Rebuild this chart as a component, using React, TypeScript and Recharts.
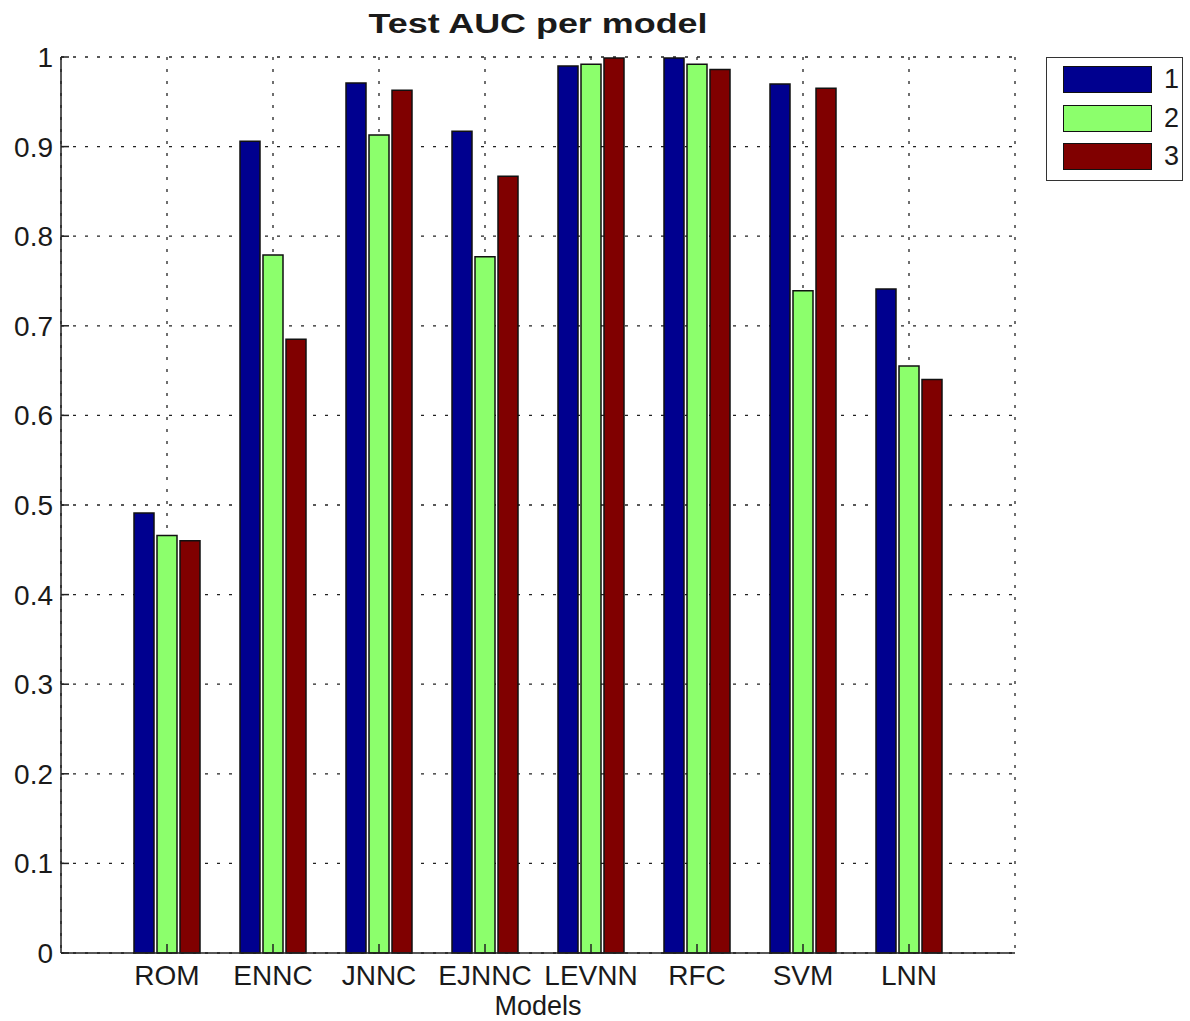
import React from 'react';
import { BarChart, Bar, XAxis, YAxis, CartesianGrid } from 'recharts';

const models = ['ROM', 'ENNC', 'JNNC', 'EJNNC', 'LEVNN', 'RFC', 'SVM', 'LNN'];
const series1 = [0.491, 0.906, 0.971, 0.917, 0.99, 0.999, 0.97, 0.741];
const series2 = [0.466, 0.779, 0.913, 0.777, 0.992, 0.992, 0.739, 0.655];
const series3 = [0.46, 0.685, 0.963, 0.867, 0.999, 0.986, 0.965, 0.64];
const yTicks = [0, 0.1, 0.2, 0.3, 0.4, 0.5, 0.6, 0.7, 0.8, 0.9, 1];
const seriesKeys = ['s1', 's2', 's3'];
const seriesNames = ['1', '2', '3'];
const seriesColors = ['#00008F', '#8CFF6C', '#800000'];
const title = 'Test AUC per model';
const xLabel = 'Models';

const data = models.map((m, i) => ({ model: m, s1: series1[i], s2: series2[i], s3: series3[i] }));

const FONT = '"Liberation Sans", Arial, Helvetica, sans-serif';
const TEXT = '#1a1a1a';
const AXIS = '#222';

const LeftTick = (props: any) => {
  const { x, y, payload } = props;
  return (
    <g>
      <line x1={x} y1={y} x2={x + 8} y2={y} stroke={AXIS} strokeWidth={1.5} />
      <text x={x - 8} y={y} dy={10} textAnchor="end" fontSize={28} fontFamily={FONT} fill={TEXT}>
        {payload.value}
      </text>
    </g>
  );
};

const RightTick = (props: any) => {
  const { x, y } = props;
  return <line x1={x} y1={y} x2={x - 8} y2={y} stroke={AXIS} strokeWidth={1.5} />;
};

const TopTick = (props: any) => {
  const { x, y } = props;
  return <line x1={x} y1={y} x2={x} y2={y + 9} stroke={AXIS} strokeWidth={1.5} />;
};

const BottomTick = (props: any) => {
  const { x, y, payload } = props;
  return (
    <g>
      <line x1={x} y1={y} x2={x} y2={y - 9} stroke={AXIS} strokeWidth={1.5} />
      <text x={x} y={y + 32} textAnchor="middle" fontSize={28} fontFamily={FONT} fill={TEXT}>
        {payload.value}
      </text>
    </g>
  );
};

export default function App() {
  return (
    <div style={{ position: 'absolute', left: 0, top: 0, width: 1190, height: 1021, background: '#fff' }}>
      <BarChart
        width={1190}
        height={1021}
        data={data}
        margin={{ top: 57, right: 175, bottom: 0, left: 0 }}
        barGap={3}
        barSize={20}
      >
        <CartesianGrid strokeDasharray="3 9" stroke={AXIS} strokeWidth={1.3} />
        <XAxis
          dataKey="model"
          xAxisId={0}
          height={68}
          padding={{ left: 53, right: 53 }}
          tickSize={0}
          tickMargin={0}
          tickLine={false}
          interval={0}
          axisLine={{ stroke: AXIS, strokeWidth: 1.5 }}
          tick={<BottomTick />}
          label={{ value: xLabel, position: 'insideBottom', offset: 6, fontSize: 27, fill: TEXT, fontFamily: FONT }}
        />
        <XAxis
          dataKey="model"
          xAxisId="top"
          orientation="top"
          height={0}
          padding={{ left: 53, right: 53 }}
          tickSize={0}
          tickMargin={0}
          tickLine={false}
          interval={0}
          axisLine={{ stroke: AXIS, strokeWidth: 1.5 }}
          tick={<TopTick />}
        />
        <YAxis
          yAxisId={0}
          width={61}
          domain={[0, 1]}
          ticks={yTicks}
          tickSize={0}
          tickMargin={0}
          tickLine={false}
          interval={0}
          axisLine={{ stroke: AXIS, strokeWidth: 1.5 }}
          tick={<LeftTick />}
        />
        <YAxis
          yAxisId="right"
          orientation="right"
          width={0}
          domain={[0, 1]}
          ticks={yTicks}
          tickSize={0}
          tickMargin={0}
          tickLine={false}
          interval={0}
          axisLine={{ stroke: AXIS, strokeWidth: 1.5 }}
          tick={<RightTick />}
        />
        {seriesKeys.map((k, i) => (
          <Bar
            key={k}
            dataKey={k}
            name={seriesNames[i]}
            fill={seriesColors[i]}
            stroke="#111"
            strokeWidth={1.5}
            isAnimationActive={false}
          />
        ))}
      </BarChart>
      <svg style={{ position: 'absolute', left: 0, top: 0 }} width={1190} height={50}>
        <text
          x={538}
          y={33}
          textAnchor="middle"
          fontSize={28}
          fontWeight="bold"
          fontFamily={FONT}
          fill={TEXT}
          textLength={339}
          lengthAdjust="spacingAndGlyphs"
        >
          {title}
        </text>
      </svg>
      <div
        style={{
          position: 'absolute',
          left: 1046,
          top: 57,
          width: 137,
          height: 124,
          border: '1.5px solid #333',
          boxSizing: 'border-box',
          background: '#fff',
          fontFamily: FONT,
        }}
      >
        {seriesNames.map((n, i) => (
          <div key={n}>
            <div
              style={{
                position: 'absolute',
                left: 16,
                top: 8 + i * 38.5,
                width: 89,
                height: 27,
                background: seriesColors[i],
                border: '1.5px solid #111',
                boxSizing: 'border-box',
              }}
            />
            <div
              style={{
                position: 'absolute',
                left: 117,
                top: 6 + i * 38.5,
                fontSize: 27,
                lineHeight: '30px',
                color: TEXT,
              }}
            >
              {n}
            </div>
          </div>
        ))}
      </div>
    </div>
  );
}
